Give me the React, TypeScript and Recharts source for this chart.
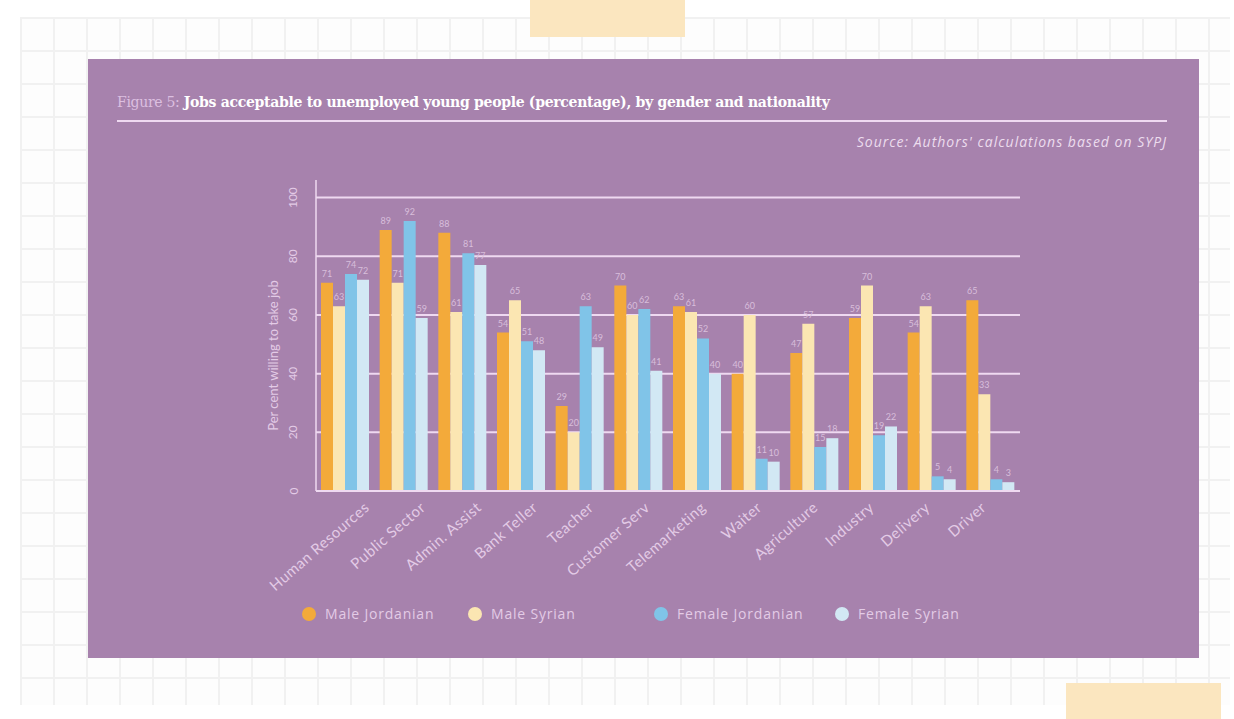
import { BarChart, Bar, XAxis, YAxis, CartesianGrid, LabelList } from 'recharts';

const jobs = ['Human Resources', 'Public Sector', 'Admin. Assist', 'Bank Teller', 'Teacher', 'Customer Serv', 'Telemarketing', 'Waiter', 'Agriculture', 'Industry', 'Delivery', 'Driver'];
const maleJordanian = [71, 89, 88, 54, 29, 70, 63, 40, 47, 59, 54, 65];
const maleSyrian = [63, 71, 61, 65, 20, 60, 61, 60, 57, 70, 63, 33];
const femaleJordanian = [74, 92, 81, 51, 63, 62, 52, 11, 15, 19, 5, 4];
const femaleSyrian = [72, 59, 77, 48, 49, 41, 40, 10, 18, 22, 4, 3];
const yTicks = [0, 20, 40, 60, 80, 100];
const Y_MAX = 106;

const SERIES = [
  { key: 'mj', name: 'Male Jordanian', color: '#f3aa3a', values: maleJordanian },
  { key: 'ms', name: 'Male Syrian', color: '#fbe6b2', values: maleSyrian },
  { key: 'fj', name: 'Female Jordanian', color: '#80c4e8', values: femaleJordanian },
  { key: 'fs', name: 'Female Syrian', color: '#d2e8f4', values: femaleSyrian },
];

const data = jobs.map((job, i) => {
  const row: Record<string, string | number> = { job };
  SERIES.forEach(s => { row[s.key] = s.values[i]; });
  return row;
});

const PURPLE = '#a782ad';
const SOFT = '#e3cbe6';
const LINE = '#efd9f1';
const FONT = 'Lato, "Open Sans", sans-serif';

const YTick = ({ x, y, payload }: any) => (
  <text
    x={x - 15}
    y={y}
    transform={`rotate(-90, ${x - 15}, ${y})`}
    textAnchor="middle"
    dominantBaseline="central"
    fill={SOFT}
    fontSize={12}
    fontFamily={FONT}
  >
    {payload.value}
  </text>
);

// labels in the original drift a little left of the category centres
const XTick = ({ x, y, payload, index }: any) => {
  const tx = x + 25 - 2.6 * (index ?? payload.index ?? 0);
  const ty = y + 10;
  return (
    <text
      x={tx}
      y={ty}
      transform={`rotate(-41, ${tx}, ${ty})`}
      textAnchor="end"
      fill={SOFT}
      fontSize={15}
      letterSpacing={0.5}
      fontFamily={FONT}
    >
      {payload.value}
    </text>
  );
};

const YLabel = ({ viewBox }: any) => {
  const cx = viewBox.x + 33;
  const cy = viewBox.y + viewBox.height / 2 + 20;
  return (
    <text
      x={cx}
      y={cy}
      transform={`rotate(-90, ${cx}, ${cy})`}
      textAnchor="middle"
      dominantBaseline="central"
      fill={SOFT}
      fontSize={13}
      fontFamily={FONT}
    >
      Per cent willing to take job
    </text>
  );
};

// grid only at 20..100, not at the padded top of the axis
const gridRows = ({ offset }: any) =>
  yTicks.filter(t => t > 0).map(t => offset.top + offset.height * (1 - t / Y_MAX));

const legendWidths = [166, 186, 181, 140];

export default function App() {
  return (
    <div
      style={{
        position: 'absolute',
        left: 0,
        top: 0,
        width: 1234,
        height: 719,
        background: '#ffffff',
        overflow: 'hidden',
      }}
    >
      {/* notebook grid */}
      <div
        style={{
          position: 'absolute',
          left: 20,
          top: 17,
          width: 1210,
          height: 688,
          backgroundColor: '#fdfdfd',
          backgroundImage:
            'linear-gradient(to right, #f1f1f1 2px, transparent 2px), linear-gradient(to bottom, #f1f1f1 2px, transparent 2px)',
          backgroundSize: '33px 33px',
        }}
      />
      <div style={{ position: 'absolute', left: 530, top: 0, width: 155, height: 37, background: '#fbe6bf' }} />
      <div style={{ position: 'absolute', left: 1066, top: 683, width: 155, height: 36, background: '#fbe6bf' }} />

      <div style={{ position: 'absolute', left: 88, top: 59, width: 1111, height: 599, background: PURPLE }}>
        <div
          style={{
            position: 'absolute',
            left: 29,
            top: 35,
            fontFamily: '"DejaVu Serif", serif',
            fontSize: 14,
            fontWeight: 'bold',
            color: '#ffffff',
            whiteSpace: 'nowrap',
            letterSpacing: -0.3,
          }}
        >
          <span style={{ color: '#dcbfe0', fontWeight: 'normal' }}>Figure 5: </span>
          Jobs acceptable to unemployed young people (percentage), by gender and nationality
        </div>
        <div style={{ position: 'absolute', left: 29, top: 61, width: 1050, height: 2, background: LINE }} />
        <div
          style={{
            position: 'absolute',
            right: 32,
            top: 73,
            fontFamily: '"Open Sans", sans-serif',
            fontStyle: 'italic',
            fontSize: 14,
            letterSpacing: 1,
            color: '#ecdcee',
            whiteSpace: 'nowrap',
          }}
        >
          Source: Authors' calculations based on SYPJ
        </div>

        <div style={{ position: 'absolute', left: 152, top: 116 }}>
          <BarChart
            width={800}
            height={440}
            data={data}
            margin={{ top: 5, right: 20, left: 0, bottom: 0 }}
            barSize={12}
            barGap={0}
          >
            <CartesianGrid
              vertical={false}
              stroke={LINE}
              strokeWidth={2}
              horizontalCoordinatesGenerator={gridRows}
            />
            <XAxis
              dataKey="job"
              interval={0}
              height={124}
              axisLine={{ stroke: LINE, strokeWidth: 2 }}
              tickLine={false}
              tick={<XTick />}
            />
            <YAxis
              width={76}
              domain={[0, Y_MAX]}
              ticks={yTicks}
              axisLine={{ stroke: LINE, strokeWidth: 1.5 }}
              tickLine={false}
              tick={<YTick />}
              label={<YLabel />}
            />
            {SERIES.map(s => (
              <Bar key={s.key} dataKey={s.key} name={s.name} fill={s.color} isAnimationActive={false}>
                <LabelList
                  dataKey={s.key}
                  position="top"
                  fill="#d8bedb"
                  fontSize={9}
                  fontFamily={FONT}
                  offset={6}
                />
              </Bar>
            ))}
          </BarChart>
        </div>

        <div style={{ position: 'absolute', left: 214, top: 545, display: 'flex' }}>
          {SERIES.map((s, i) => (
            <div
              key={s.key}
              style={{
                width: legendWidths[i],
                display: 'flex',
                alignItems: 'center',
                fontFamily: '"Open Sans", sans-serif',
                fontSize: 14,
                letterSpacing: 0.8,
                color: SOFT,
                whiteSpace: 'nowrap',
              }}
            >
              <span
                style={{ display: 'inline-block', width: 14, height: 14, borderRadius: 7, background: s.color, marginRight: 9 }}
              />
              {s.name}
            </div>
          ))}
        </div>
      </div>
    </div>
  );
}
